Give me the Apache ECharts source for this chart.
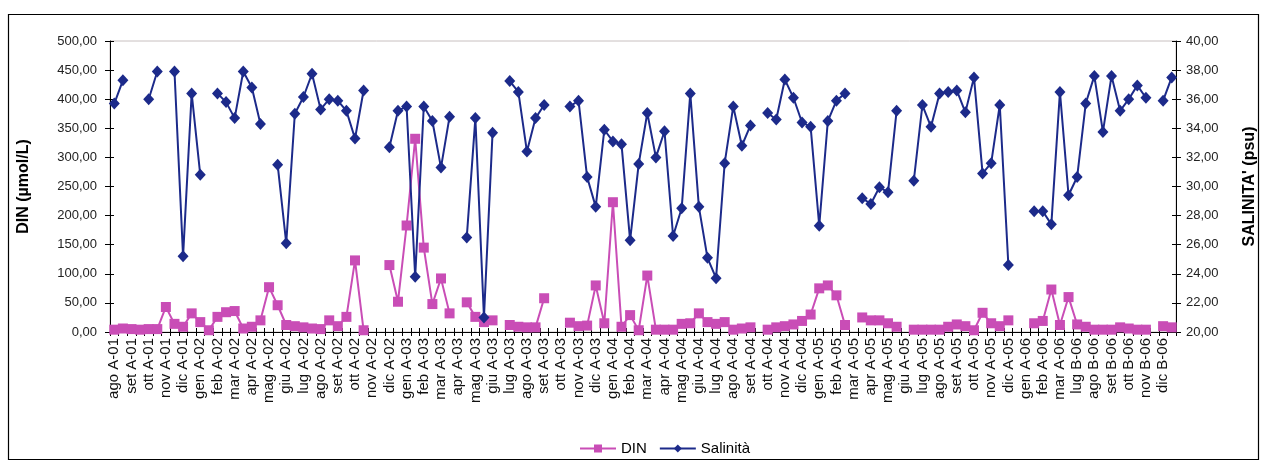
<!DOCTYPE html>
<html>
<head>
<meta charset="utf-8">
<script src="https://cdn.jsdelivr.net/npm/echarts@6/dist/echarts.min.js"></script>
<style>
  html, body { margin: 0; padding: 0; background: #fff; }
  #chart { width: 1266px; height: 464px; }
</style>
</head>
<body>
<div id="chart"></div>
<script>
// Monthly labels (two samplings per month, one label shown per month)
const monthLabels = [
  'ago A-01','set A-01','ott A-01','nov A-01','dic A-01',
  'gen A-02','feb A-02','mar A-02','apr A-02','mag A-02','giu A-02','lug A-02','ago A-02','set A-02','ott A-02','nov A-02','dic A-02',
  'gen A-03','feb A-03','mar A-03','apr A-03','mag A-03','giu A-03','lug A-03','ago A-03','set A-03','ott A-03','nov A-03','dic A-03',
  'gen A-04','feb A-04','mar A-04','apr A-04','mag A-04','giu A-04','lug A-04','ago A-04','set A-04','ott A-04','nov A-04','dic A-04',
  'gen A-05','feb A-05','mar A-05','apr A-05','mag A-05','giu A-05','lug A-05','ago A-05','set A-05','ott A-05','nov A-05','dic A-05',
  'gen A-06','feb A-06','mar A-06','lug B-06','ago B-06','set B-06','ott B-06','nov B-06','dic B-06'
];

// DIN (µmol/L), one value per sampling
const dinValues = [
  4, 6, 5, 4, 5, 5, 43, 14, 9, 32, 17, 3, 26, 34, 36, 6, 9, 20, 77, 46,
  12, 10, 8, 6, 5, 20, 10, 26, 123, 3, null, null, 115, 52, 183, 332, 145, 48, 92, 32,
  null, 51, 26, 17, 20, null, 12, 9, 8, 8, 58, null, null, 16, 10, 11, 80, 15, 223, 9,
  29, 3, 97, 4, 4, 4, 14, 15, 32, 17, 14, 17, 4, 6, 8, null, 4, 8, 10, 13,
  19, 30, 75, 80, 63, 12, null, 25, 20, 20, 15, 9, null, 4, 4, 4, 4, 9, 13, 10,
  3, 33, 15, 10, 20, null, null, 15, 19, 73, 12, 60, 13, 9, 4, 4, 4, 8, 6, 4,
  4, null, 10, 8
];

// Salinità (psu), one value per sampling
const salinityValues = [
  35.7, 37.3, null, null, 36.0, 37.9, null, 37.9, 25.2, 36.4, 30.8, null, 36.4, 35.8, 34.7, 37.9, 36.8, 34.3, null, 31.5,
  26.1, 35.0, 36.15, 37.75, 35.3, 36.0, 35.9, 35.2, 33.3, 36.6, null, null, 32.7, 35.2, 35.5, 23.8, 35.5, 34.5, 31.3, 34.8,
  null, 26.5, 34.7, 21.0, 33.7, null, 37.25, 36.5, 32.4, 34.7, 35.6, null, null, 35.5, 35.9, 30.65, 28.6, 33.9, 33.1, 32.9,
  26.3, 31.55, 35.05, 32.0, 33.8, 26.6, 28.5, 36.4, 28.6, 25.1, 23.7, 31.6, 35.5, 32.8, 34.2, null, 35.05, 34.6, 37.35, 36.1,
  34.4, 34.1, 27.3, 34.5, 35.9, 36.4, null, 29.2, 28.8, 29.95, 29.6, 35.2, null, 30.4, 35.6, 34.1, 36.4, 36.5, 36.6, 35.1,
  37.5, 30.9, 31.6, 35.6, 24.6, null, null, 28.3, 28.3, 27.4, 36.5, 29.4, 30.65, 35.7, 37.6, 33.75, 37.6, 35.2, 36.0, 36.95,
  36.1, null, 35.9, 37.5
];

// Each month holds two samplings
const categories = [];
monthLabels.forEach(m => { categories.push(m, m); });

const fmt = v => v.toFixed(2).replace('.', ',');
const FONT = '"Liberation Sans", Arial, sans-serif';
const PINK = '#c94db6';
const NAVY = '#1c2a8a';

const chart = echarts.init(document.getElementById('chart'), null, { renderer: 'canvas' });

const gridBox = { left: 110, right: 83, top: 41, bottom: 132 };

chart.setOption({
  animation: false,
  backgroundColor: '#fff',
  textStyle: { fontFamily: FONT },
  graphic: [{
    type: 'rect',
    shape: { x: 8.5, y: 14.5, width: 1250, height: 445 },
    style: { fill: 'none', stroke: '#000', lineWidth: 1.2 },
    silent: true
  }],
  grid: Object.assign({ show: true, borderColor: '#c8c0c0', borderWidth: 1 }, gridBox),
  legend: {
    left: 574,
    top: 436,
    itemWidth: 36,
    itemHeight: 10,
    itemGap: 12,
    textStyle: { fontFamily: FONT, fontSize: 15, color: '#000' },
    data: ['DIN', 'Salinità']
  },
  xAxis: [{
    type: 'category',
    data: categories,
    boundaryGap: true,
    axisLine: { lineStyle: { color: '#000', width: 1 } },
    axisTick: { show: true, interval: 0, length: 4, lineStyle: { color: '#000' } },
    axisLabel: {
      interval: 1,
      rotate: 90,
      margin: 6,
      fontFamily: FONT,
      fontSize: 15,
      color: '#111'
    },
    splitLine: { show: false }
  }, {
    // inward half of the cross tick marks
    type: 'category',
    data: categories,
    position: 'bottom',
    boundaryGap: true,
    axisLine: { show: false },
    axisTick: { show: true, inside: true, interval: 0, length: 4, lineStyle: { color: '#000' } },
    axisLabel: { show: false },
    splitLine: { show: false }
  }],
  yAxis: [{
    type: 'value',
    position: 'left',
    min: 0, max: 500, interval: 50,
    name: 'DIN (µmol/L)',
    nameLocation: 'middle',
    nameRotate: 90,
    nameGap: 78,
    nameTextStyle: { fontFamily: FONT, fontSize: 16, fontWeight: 'bold', color: '#000' },
    axisLine: { show: true, lineStyle: { color: '#000' } },
    axisTick: { show: true, length: 5, lineStyle: { color: '#000' } },
    axisLabel: { formatter: fmt, fontFamily: FONT, fontSize: 13, color: '#222', margin: 13 },
    splitLine: { show: false }
  }, {
    type: 'value',
    position: 'right',
    min: 20, max: 40, interval: 2,
    name: "SALINITA' (psu)",
    nameLocation: 'middle',
    nameRotate: 90,
    nameGap: 66,
    nameTextStyle: { fontFamily: FONT, fontSize: 16, fontWeight: 'bold', color: '#000' },
    axisLine: { show: true, lineStyle: { color: '#000' } },
    axisTick: { show: true, length: 5, lineStyle: { color: '#000' } },
    axisLabel: { formatter: fmt, fontFamily: FONT, fontSize: 13, color: '#222', margin: 10 },
    splitLine: { show: false }
  }, {
    type: 'value', position: 'left', min: 0, max: 500, interval: 50,
    axisLine: { show: false }, axisLabel: { show: false }, splitLine: { show: false },
    axisTick: { show: true, inside: true, length: 4, lineStyle: { color: '#000' } }
  }, {
    type: 'value', position: 'right', min: 20, max: 40, interval: 2,
    axisLine: { show: false }, axisLabel: { show: false }, splitLine: { show: false },
    axisTick: { show: true, inside: true, length: 4, lineStyle: { color: '#000' } }
  }],
  series: [{
    name: 'DIN',
    type: 'line',
    xAxisIndex: 0,
    yAxisIndex: 0,
    data: dinValues,
    connectNulls: false,
    showAllSymbol: true,
    symbol: 'rect',
    symbolSize: 10,
    lineStyle: { color: PINK, width: 2 },
    itemStyle: { color: PINK },
    z: 2
  }, {
    name: 'Salinità',
    type: 'line',
    xAxisIndex: 0,
    yAxisIndex: 1,
    data: salinityValues,
    connectNulls: false,
    showAllSymbol: true,
    symbol: 'diamond',
    symbolSize: [11, 12],
    lineStyle: { color: NAVY, width: 2 },
    itemStyle: { color: NAVY },
    z: 3
  }]
});
</script>
</body>
</html>
